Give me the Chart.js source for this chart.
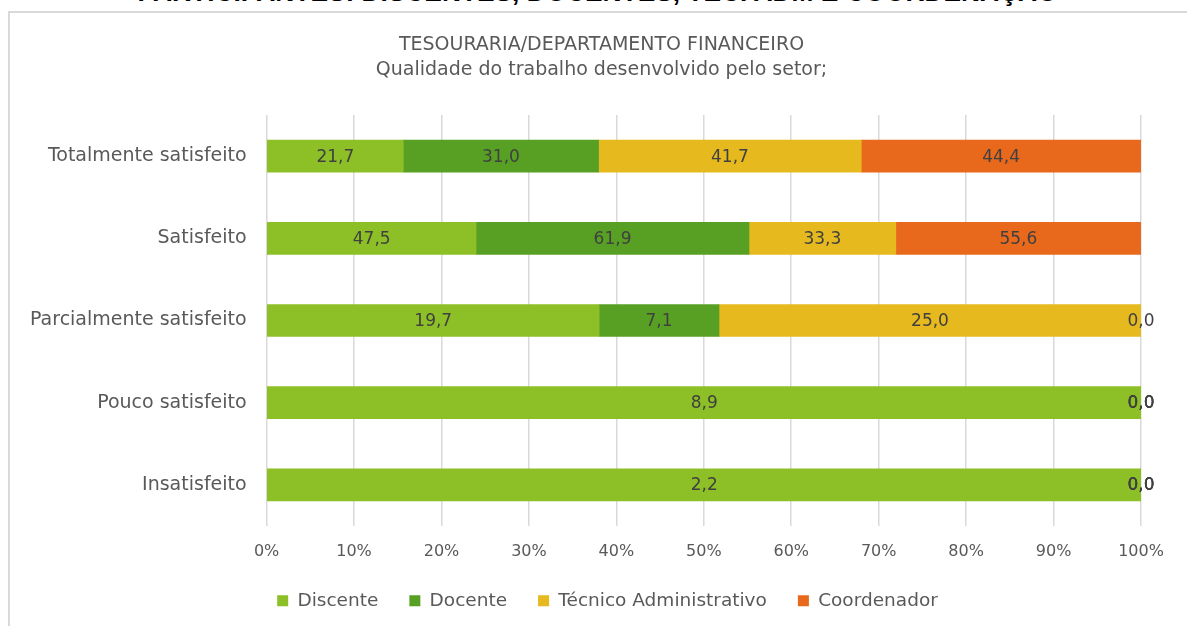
<!DOCTYPE html>
<html>
<head>
<meta charset="utf-8">
<script src="https://cdn.jsdelivr.net/npm/chart.js@4"></script>
<style>
  html, body { margin: 0; padding: 0; background: #fff; overflow: hidden; }
  #page { position: relative; width: 1187px; height: 626px; }
  #heading {
    position: absolute; left: 4px; width: 1187px; top: -23px; line-height: 30px;
    text-align: center; font-family: "Liberation Sans", sans-serif;
    font-weight: bold; font-size: 26.3px; color: #000; white-space: nowrap;
  }
  #frame {
    position: absolute; left: 8px; top: 11px; width: 1200px; height: 640px;
    border: 2px solid #d9d9d9; box-sizing: border-box;
  }
  canvas { position: absolute; left: 0; top: 0; }
</style>
</head>
<body>
<div id="page">
  <div id="heading">PARTICIPANTES: DISCENTES, DOCENTES, TEC. ADM E COORDENAÇÃO</div>
  <div id="frame"></div>
  <canvas id="chart" width="1187" height="626"></canvas>
</div>
<script>
// categories and series (values as shown in the labels)
const categories = ['Totalmente satisfeito', 'Satisfeito', 'Parcialmente satisfeito', 'Pouco satisfeito', 'Insatisfeito'];
const discente = [21.7, 47.5, 19.7, 8.9, 2.2];
const docente = [31.0, 61.9, 7.1, 0.0, 0.0];
const tecnico = [41.7, 33.3, 25.0, 0.0, 0.0];
const coordenador = [44.4, 55.6, 0.0, 0.0, 0.0];
const seriesNames = ['Discente', 'Docente', 'Técnico Administrativo', 'Coordenador'];
const seriesColors = ['#8dc026', '#58a023', '#e6b91e', '#e8681c'];
const xTicks = [0, 10, 20, 30, 40, 50, 60, 70, 80, 90, 100];

const FONT = 'DejaVu Sans';
const allSeries = [discente, docente, tecnico, coordenador];

// 100% stacked: each row is shown as share of its total
const totals = categories.map((_, i) => allSeries.reduce((s, arr) => s + arr[i], 0));

const datasets = allSeries.map((arr, k) => ({
  label: seriesNames[k],
  raw: arr,
  data: arr.map((v, i) => totals[i] ? v / totals[i] * 100 : 0),
  backgroundColor: seriesColors[k],
  borderWidth: 0,
  barThickness: 32
}));

// draws the value in the middle of every segment
const valueLabels = {
  id: 'valueLabels',
  afterDatasetsDraw(chart) {
    const ctx = chart.ctx;
    ctx.save();
    ctx.font = '17px "' + FONT + '"';
    ctx.fillStyle = '#404040';
    ctx.textAlign = 'center';
    ctx.textBaseline = 'middle';
    chart.data.datasets.forEach((ds, k) => {
      const meta = chart.getDatasetMeta(k);
      meta.data.forEach((bar, i) => {
        const mid = (bar.x + bar.base) / 2;
        ctx.fillText(ds.raw[i].toFixed(1).replace('.', ','), mid, bar.y + 1);
      });
    });
    ctx.restore();
  }
};

// title and legend in the original sit a bit right of the plot centre
const shiftBlocks = {
  id: 'shiftBlocks',
  afterLayout(chart) {
    chart.legend.left += 32;
    chart.legend.right += 32;
    chart.titleBlock.left += 26;
    chart.titleBlock.right += 26;
  }
};

new Chart(document.getElementById('chart'), {
  type: 'bar',
  data: { labels: categories, datasets: datasets },
  options: {
    indexAxis: 'y',
    responsive: false,
    animation: false,
    layout: { padding: { left: 10, right: 46, top: 0, bottom: 6 } },
    scales: {
      x: {
        stacked: true,
        min: 0, max: 100,
        afterBuildTicks: axis => { axis.ticks = xTicks.map(v => ({ value: v })); },
        afterFit: axis => { axis.height -= 17; },
        grid: { color: '#d9d9d9', lineWidth: 1.5, drawTicks: false },
        border: { display: false },
        ticks: { color: '#595959', font: { family: FONT, size: 16, lineHeight: 0.72 }, padding: 20, callback: v => v + '%' }
      },
      y: {
        stacked: true,
        grid: { display: false, drawTicks: false },
        border: { display: false },
        ticks: { color: '#595959', font: { family: FONT, size: 19 }, padding: 20 }
      }
    },
    plugins: {
      title: {
        display: true,
        text: ['TESOURARIA/DEPARTAMENTO FINANCEIRO', 'Qualidade do trabalho desenvolvido pelo setor;'],
        color: '#595959',
        font: { family: FONT, size: 19, weight: 'normal', lineHeight: 1.316 },
        padding: { top: 32.5, bottom: 32.5 }
      },
      legend: {
        position: 'bottom',
        labels: {
          color: '#595959',
          font: { family: FONT, size: 18.5 },
          boxWidth: 11, boxHeight: 11, padding: 31
        }
      },
      tooltip: { enabled: false }
    }
  },
  plugins: [valueLabels, shiftBlocks]
});
</script>
</body>
</html>
